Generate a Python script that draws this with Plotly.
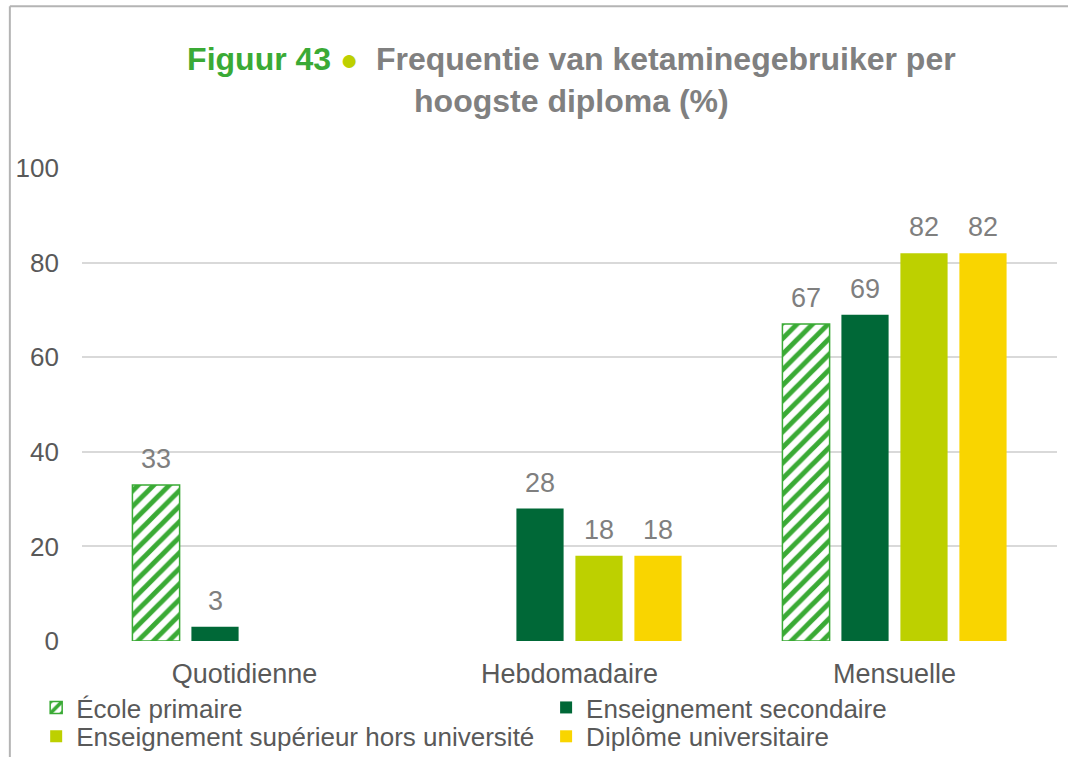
import plotly.graph_objects as go

# Frequency of use per highest diploma (%)
categories = ["Quotidienne", "Hebdomadaire", "Mensuelle"]
series_names = [
    "École primaire",
    "Enseignement secondaire",
    "Enseignement supérieur hors université",
    "Diplôme universitaire",
]
ecole_primaire = [33, None, 67]
ens_secondaire = [3, 28, 69]
ens_superieur = [None, 18, 82]
diplome_univ = [None, 18, 82]
y_ticks = [0, 20, 40, 60, 80, 100]

FONT = "Arial, Liberation Sans, sans-serif"
GREEN = "#3aaa35"
DARK_GREEN = "#006837"
LIME = "#bdd000"
YELLOW = "#f9d500"
LABEL_GRAY = "#7f7f7f"
TEXT_GRAY = "#595959"

BARGAP = 0.274
BARGROUPGAP = 0.2

fig = go.Figure()

series = [
    (series_names[0], ecole_primaire),
    (series_names[1], ens_secondaire),
    (series_names[2], ens_superieur),
    (series_names[3], diplome_univ),
]
fills = [None, DARK_GREEN, LIME, YELLOW]
# each legend entry gets its own legend box: two columns, two rows
legend_ids = ["legend", "legend2", "legend3", "legend4"]
legend_pos = [(-0.047, -0.091), (0.476, -0.091),
              (-0.047, -0.152), (0.476, -0.152)]

n_series = len(series)
slot = (1 - BARGAP) / n_series

for s_idx, ((name, vals), fill) in enumerate(zip(series, fills)):
    if fill is None:
        marker = dict(
            color="white",
            line=dict(color=GREEN, width=1.5),
            pattern=dict(shape="/", fgcolor=GREEN, bgcolor="white",
                         fgopacity=1, size=11, solidity=0.45),
        )
    else:
        marker = dict(color=fill, line=dict(width=0))
    fig.add_trace(go.Bar(name=name, x=categories, y=vals, marker=marker,
                         legend=legend_ids[s_idx]))

    # value labels above each bar, centred on the bar's slot in its group
    offset = (s_idx - (n_series - 1) / 2) * slot
    for c_idx, v in enumerate(vals):
        if v is None:
            continue
        fig.add_annotation(
            x=c_idx + offset, y=v, xref="x", yref="y",
            text=f"{v}", showarrow=False, yanchor="bottom", yshift=9,
            font=dict(family=FONT, size=27, color=LABEL_GRAY),
        )

# light frame around the chart
frame = dict(color="#b4b4b4", width=2)
fig.add_shape(type="line", xref="paper", yref="paper",
              x0=-0.074, x1=1.02, y0=1.342, y1=1.342, line=frame)
fig.add_shape(type="line", xref="paper", yref="paper",
              x0=-0.074, x1=-0.074, y0=1.342, y1=-0.3, line=frame)

title_text = (
    f"<span style='color:{GREEN}'>Figuur 43</span> "
    f"<span style='color:{LIME};font-size:30px'>●</span>  "
    "Frequentie van ketaminegebruiker per<br>hoogste diploma (%)"
)

legend_style = dict(orientation="h", xanchor="left", yanchor="top",
                    font=dict(family=FONT, size=26, color=TEXT_GRAY),
                    itemclick=False, bgcolor="rgba(0,0,0,0)")
legends = {}
for lid, (lx, ly) in zip(legend_ids, legend_pos):
    legends[lid] = dict(legend_style, x=lx, y=ly)

fig.update_layout(
    width=1068, height=757,
    paper_bgcolor="white", plot_bgcolor="white",
    margin=dict(l=82, r=11, t=168, b=116, autoexpand=False),
    barmode="group", bargap=BARGAP, bargroupgap=BARGROUPGAP,
    title=dict(text=title_text, x=0.535, xanchor="center",
               y=0.907, yanchor="top",
               font=dict(family=FONT, size=32, color="#808080", weight="bold")),
    font=dict(family=FONT, size=26, color=TEXT_GRAY),
    xaxis=dict(showline=False, ticks="", ticklabelstandoff=14,
               tickfont=dict(size=27, color=TEXT_GRAY)),
    yaxis=dict(range=[0, 100], tickvals=y_ticks, showline=False,
               gridcolor="#d9d9d9", gridwidth=1.5, zeroline=False,
               ticks="", ticklabelstandoff=22,
               tickfont=dict(size=26, color=TEXT_GRAY)),
    showlegend=True,
    **legends,
)

fig.write_html("out.html")
